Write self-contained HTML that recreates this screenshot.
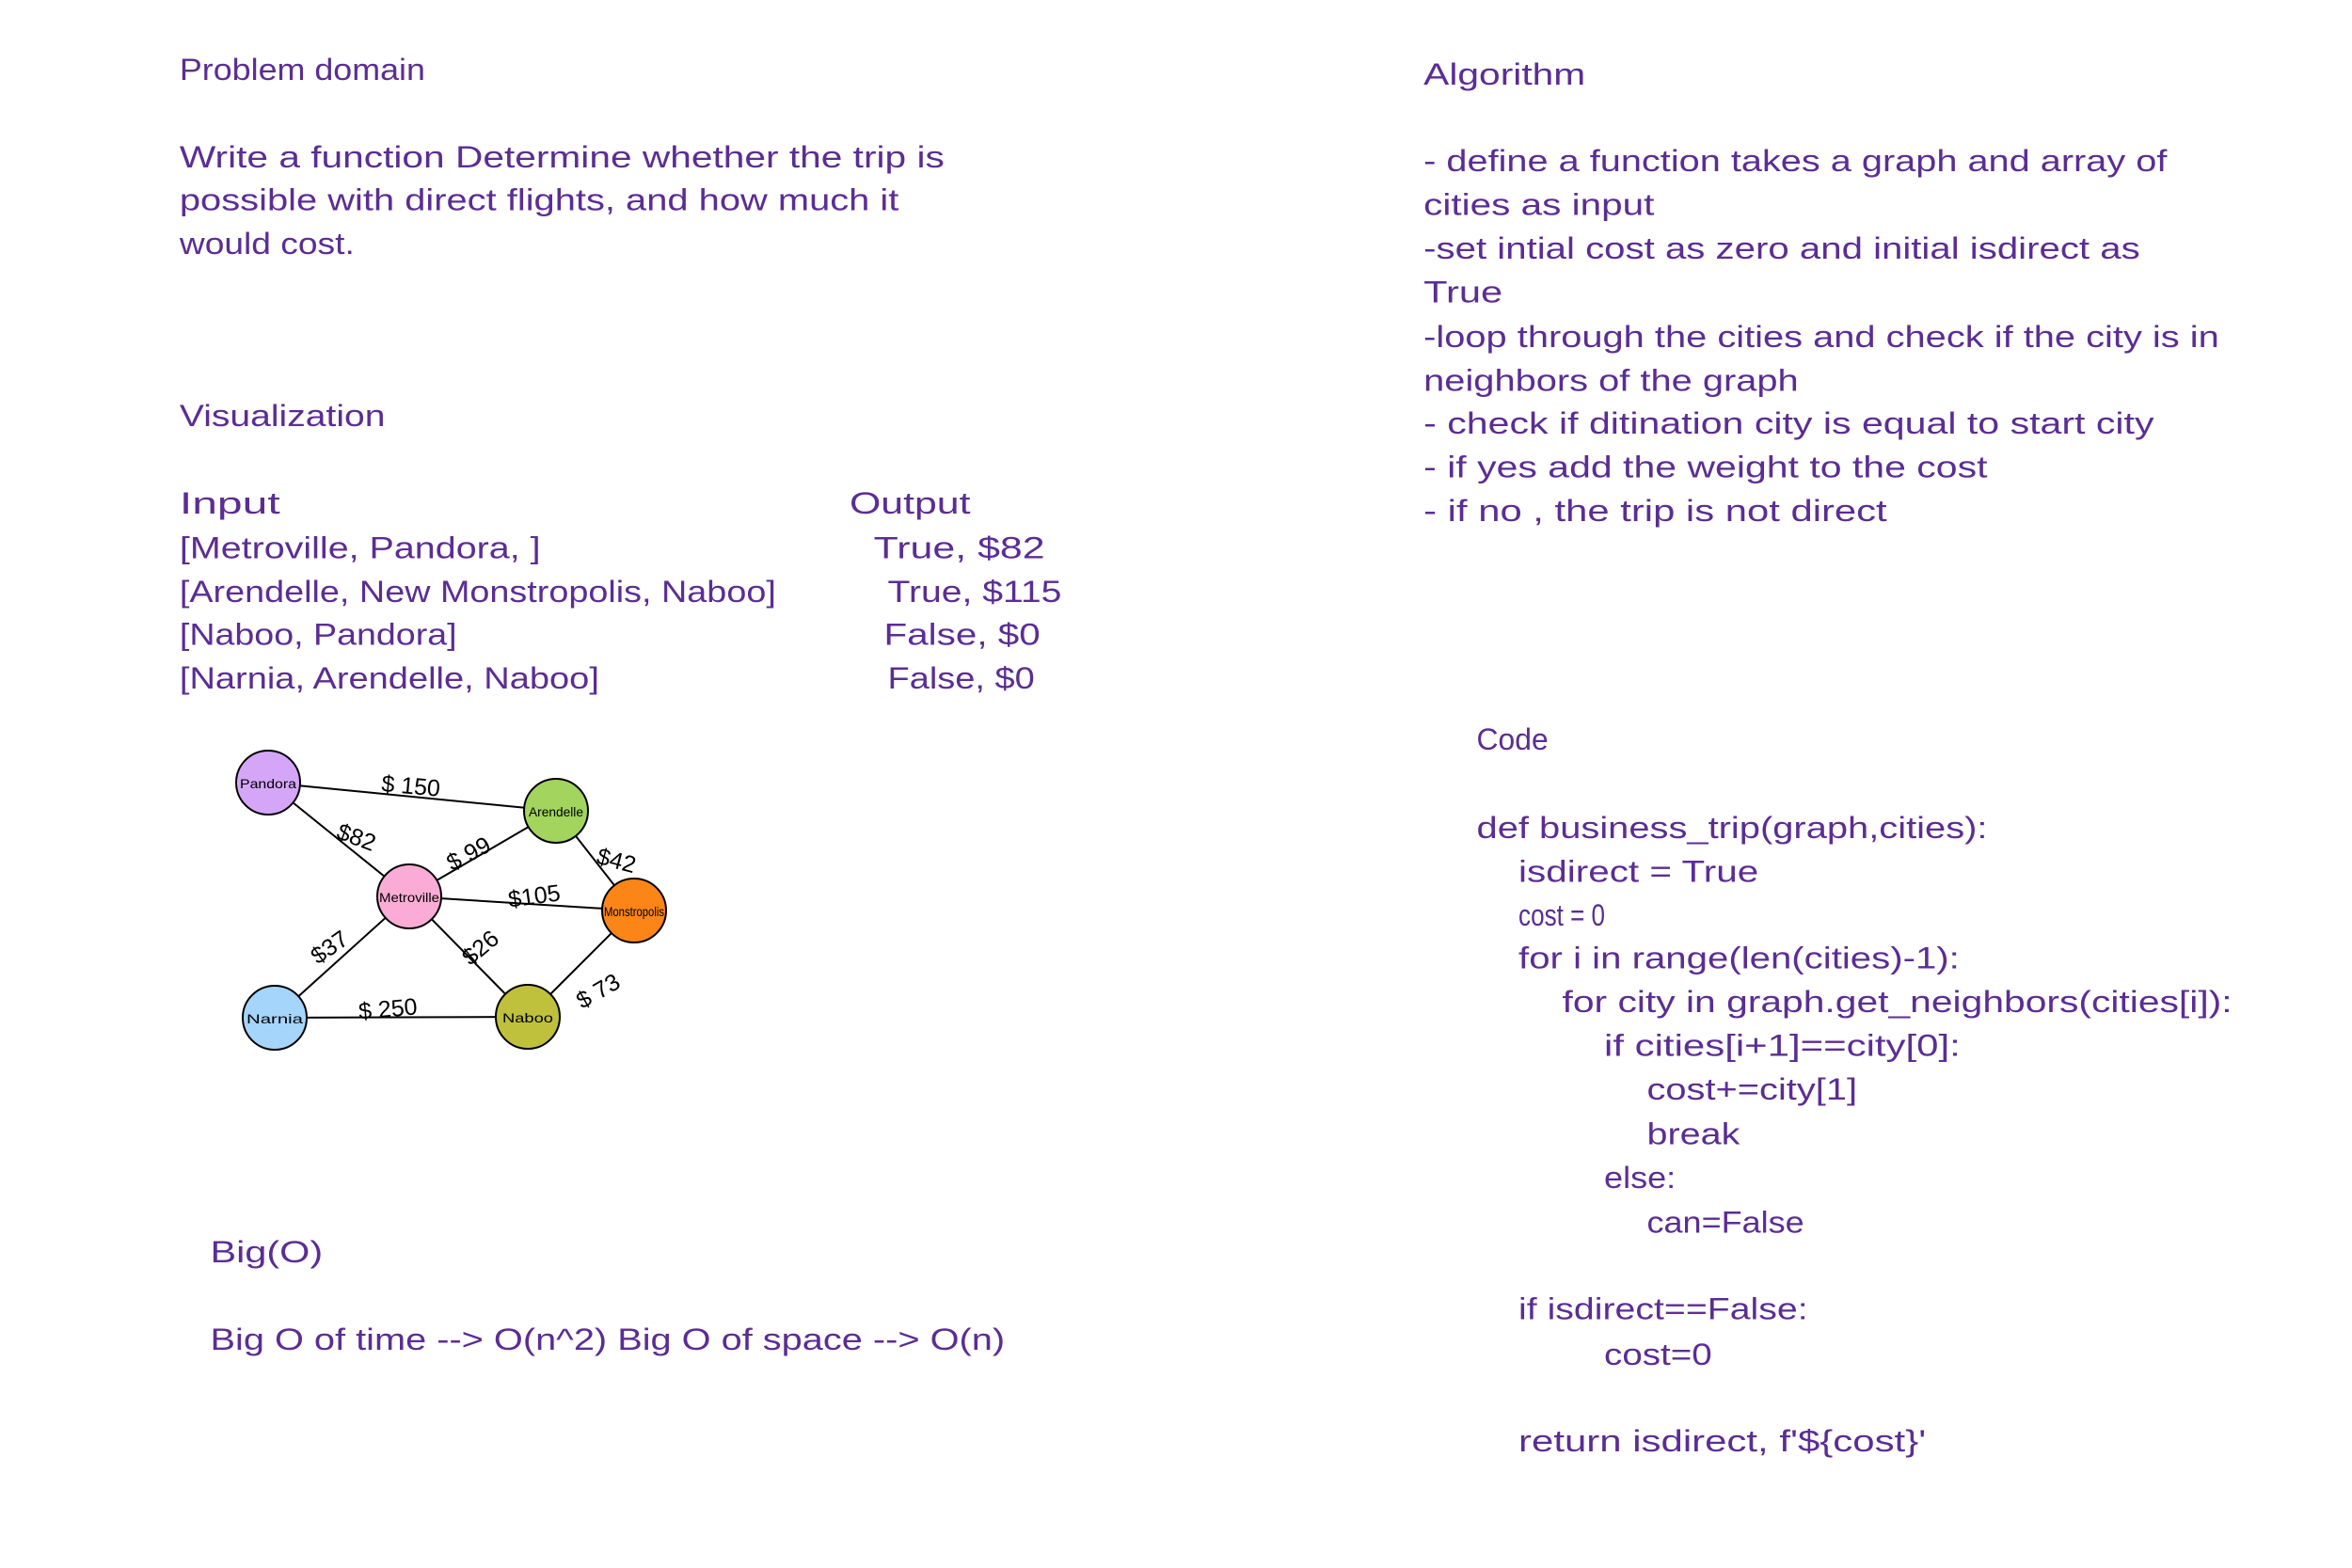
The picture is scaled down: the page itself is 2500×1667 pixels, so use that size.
<!DOCTYPE html>
<html><head><meta charset="utf-8"><style>
html,body{margin:0;padding:0;background:#fff;}
svg{display:block;}
.t{font-family:"Liberation Sans",sans-serif;font-size:33px;fill:#5b2d94;}
.l{font-family:"Liberation Sans",sans-serif;font-size:25px;fill:#000;}
.n{font-family:"Liberation Sans",sans-serif;font-size:14px;fill:#000;}
</style></head><body>
<svg width="2500" height="1667" viewBox="0 0 2500 1667" xmlns="http://www.w3.org/2000/svg">
<rect width="2500" height="1667" fill="#fff"/>
<g class="t" transform="scale(0.989)">
<text x="193" y="86" textLength="264" lengthAdjust="spacingAndGlyphs">Problem domain</text>
<text x="193" y="180" textLength="822" lengthAdjust="spacingAndGlyphs">Write a function Determine whether the trip is</text>
<text x="193" y="226" textLength="773" lengthAdjust="spacingAndGlyphs">possible with direct flights, and how much it</text>
<text x="193" y="273" textLength="188" lengthAdjust="spacingAndGlyphs">would cost.</text>
<text x="193" y="458" textLength="221" lengthAdjust="spacingAndGlyphs">Visualization</text>
<text x="193" y="552" textLength="108" lengthAdjust="spacingAndGlyphs">Input</text>
<text x="193" y="600" textLength="388" lengthAdjust="spacingAndGlyphs">[Metroville, Pandora, ]</text>
<text x="193" y="647" textLength="641" lengthAdjust="spacingAndGlyphs">[Arendelle, New Monstropolis, Naboo]</text>
<text x="193" y="693" textLength="298" lengthAdjust="spacingAndGlyphs">[Naboo, Pandora]</text>
<text x="193" y="740" textLength="451" lengthAdjust="spacingAndGlyphs">[Narnia, Arendelle, Naboo]</text>
<text x="913" y="552" textLength="130" lengthAdjust="spacingAndGlyphs">Output</text>
<text x="939" y="600" textLength="184" lengthAdjust="spacingAndGlyphs">True, $82</text>
<text x="954" y="647" textLength="187" lengthAdjust="spacingAndGlyphs">True, $115</text>
<text x="950" y="693" textLength="168" lengthAdjust="spacingAndGlyphs">False,  $0</text>
<text x="954" y="740" textLength="158" lengthAdjust="spacingAndGlyphs">False, $0</text>

<text x="1530" y="91" textLength="174" lengthAdjust="spacingAndGlyphs">Algorithm</text>
<text x="1530" y="184" textLength="799" lengthAdjust="spacingAndGlyphs">- define a function takes a graph and array of</text>
<text x="1530" y="231" textLength="248" lengthAdjust="spacingAndGlyphs">cities as input</text>
<text x="1530" y="278" textLength="770" lengthAdjust="spacingAndGlyphs">-set intial cost as zero and initial isdirect as</text>
<text x="1530" y="325" textLength="85" lengthAdjust="spacingAndGlyphs">True</text>
<text x="1530" y="373" textLength="855" lengthAdjust="spacingAndGlyphs">-loop through the cities and check if the city is in</text>
<text x="1530" y="420" textLength="403" lengthAdjust="spacingAndGlyphs">neighbors of the graph</text>
<text x="1530" y="466" textLength="785" lengthAdjust="spacingAndGlyphs">- check if ditination city is equal to start city</text>
<text x="1530" y="513" textLength="606" lengthAdjust="spacingAndGlyphs">- if yes add the weight to the cost</text>
<text x="1530" y="560" textLength="498" lengthAdjust="spacingAndGlyphs">- if no , the trip is not direct</text>

<text x="1587" y="806" textLength="77" lengthAdjust="spacingAndGlyphs">Code</text>
<text x="1587" y="901" textLength="549" lengthAdjust="spacingAndGlyphs">def business_trip(graph,cities):</text>
<text x="1632" y="948" textLength="258" lengthAdjust="spacingAndGlyphs">isdirect = True</text>
<text x="1632" y="995" textLength="93" lengthAdjust="spacingAndGlyphs">cost = 0</text>
<text x="1632" y="1041" textLength="474" lengthAdjust="spacingAndGlyphs">for i in range(len(cities)-1):</text>
<text x="1679" y="1088" textLength="720" lengthAdjust="spacingAndGlyphs">for city in graph.get_neighbors(cities[i]):</text>
<text x="1724" y="1135" textLength="383" lengthAdjust="spacingAndGlyphs">if cities[i+1]==city[0]:</text>
<text x="1770" y="1182" textLength="226" lengthAdjust="spacingAndGlyphs">cost+=city[1]</text>
<text x="1770" y="1230" textLength="100" lengthAdjust="spacingAndGlyphs">break</text>
<text x="1724" y="1277" textLength="77" lengthAdjust="spacingAndGlyphs">else:</text>
<text x="1770" y="1325" textLength="169" lengthAdjust="spacingAndGlyphs">can=False</text>
<text x="1632" y="1418" textLength="311" lengthAdjust="spacingAndGlyphs">if isdirect==False:</text>
<text x="1724" y="1467" textLength="116" lengthAdjust="spacingAndGlyphs">cost=0</text>
<text x="1632" y="1560" textLength="438" lengthAdjust="spacingAndGlyphs">return isdirect, f'${cost}'</text>

<text x="226" y="1357" textLength="121" lengthAdjust="spacingAndGlyphs">Big(O)</text>
<text x="226" y="1451" textLength="854" lengthAdjust="spacingAndGlyphs">Big O of time --&gt; O(n^2) Big O of space --&gt; O(n)</text>
</g>

<g stroke="#000" stroke-width="2">
<line x1="285" y1="832" x2="591" y2="862"/>
<line x1="285" y1="832" x2="435" y2="953"/>
<line x1="591" y1="862" x2="435" y2="953"/>
<line x1="591" y1="862" x2="674" y2="968"/>
<line x1="435" y1="953" x2="674" y2="968"/>
<line x1="435" y1="953" x2="292" y2="1082"/>
<line x1="435" y1="953" x2="561" y2="1081"/>
<line x1="292" y1="1082" x2="561" y2="1081"/>
<line x1="561" y1="1081" x2="674" y2="968"/>
</g>
<g stroke="#000" stroke-width="2">
<circle cx="285" cy="832" r="34" fill="#d5a6f8"/>
<circle cx="591" cy="862" r="34" fill="#a2d45e"/>
<circle cx="435" cy="953" r="34" fill="#fbacd6"/>
<circle cx="674" cy="968" r="34" fill="#fb8517"/>
<circle cx="292" cy="1082" r="34" fill="#a6d5fb"/>
<circle cx="561" cy="1081" r="34" fill="#bfc13d"/>
</g>
<g class="n" text-anchor="middle">
<text x="285" y="838" textLength="60" lengthAdjust="spacingAndGlyphs">Pandora</text>
<text x="591" y="868" textLength="58" lengthAdjust="spacingAndGlyphs">Arendelle</text>
<text x="435" y="959" textLength="64" lengthAdjust="spacingAndGlyphs">Metroville</text>
<text x="674" y="974" textLength="64" lengthAdjust="spacingAndGlyphs">Monstropolis</text>
<text x="292" y="1088" textLength="60" lengthAdjust="spacingAndGlyphs">Narnia</text>
<text x="561" y="1087" textLength="54" lengthAdjust="spacingAndGlyphs">Naboo</text>
</g>
<g class="l" text-anchor="middle">
<text x="436" y="844" transform="rotate(5 436 844)">$ 150</text>
<text x="376" y="898" transform="rotate(20 376 898)">$82</text>
<text x="502" y="915" transform="rotate(-28 502 915)">$ 99</text>
<text x="653" y="923" transform="rotate(15 653 923)">$42</text>
<text x="569" y="961" transform="rotate(-8 569 961)">$105</text>
<text x="355" y="1014" transform="rotate(-35 355 1014)">$37</text>
<text x="516" y="1014" transform="rotate(-40 516 1014)">$26</text>
<text x="413" y="1081" transform="rotate(-5 413 1081)">$ 250</text>
<text x="640" y="1061" transform="rotate(-30 640 1061)">$ 73</text>
</g>
</svg>
</body></html>
